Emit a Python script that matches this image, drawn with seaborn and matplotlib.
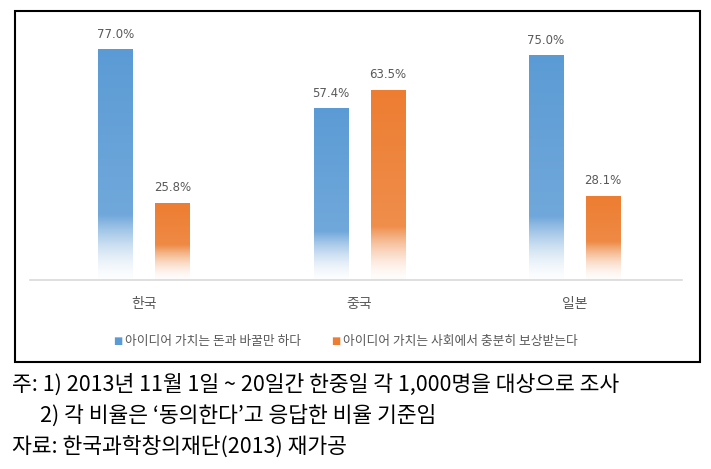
import numpy as np
import pandas as pd
import matplotlib
matplotlib.use("Agg")
import matplotlib.pyplot as plt
import seaborn as sns
from matplotlib.colors import to_rgb
from matplotlib.patches import Rectangle

countries = ["한국", "중국", "일본"]
series = ["아이디어 가치는 돈과 바꿀만 하다", "아이디어 가치는 사회에서 충분히 보상받는다"]
money_vals = [77.0, 57.4, 75.0]
reward_vals = [25.8, 63.5, 28.1]
colors = ["#5B9BD5", "#ED7D31"]
notes = ["주: 1) 2013년 11월 1일 ~ 20일간 한중일 각 1,000명을 대상으로 조사",
         "2) 각 비율은 ‘동의한다’고 응답한 비율 기준임",
         "자료: 한국과학창의재단(2013) 재가공"]

df = pd.DataFrame({
    "국가": countries * 2,
    "항목": [series[0]] * 3 + [series[1]] * 3,
    "값": money_vals + reward_vals,
})

sns.set_theme(style="white")
plt.rcParams['font.family'] = ['Noto Sans CJK KR', 'DejaVu Sans']

W, H = 711, 469
fig = plt.figure(figsize=(W / 100, H / 100), dpi=100)

ax_left, ax_right = 30, 682
ax_top, ax_bot = 20, 280
ax = fig.add_axes([ax_left / W, 1 - ax_bot / H, (ax_right - ax_left) / W, (ax_bot - ax_top) / H])

sns.barplot(data=df, x="국가", y="값", hue="항목", palette=colors, width=0.53, gap=0.4,
            ax=ax, legend=False, saturation=1)
ax.set_xlim(-0.53, 2.5)
ax.set_ylim(0, 86.7)

# gradient fill for bars (solid top, lighter downward, fading out near the base)
for patch, col in zip(ax.patches, [colors[0]] * 3 + [colors[1]] * 3):
    x0, y0 = patch.get_x(), patch.get_y()
    w, h = patch.get_width(), patch.get_height()
    r, g, b = to_rgb(col)
    n = 256
    t = np.linspace(0, 1, n)  # 0 bottom -> 1 top
    fade = 0.28 if h > 40 else 0.45
    alpha = np.clip(0.02 + 0.98 * (t / fade) ** 1.6, 0, 1)
    light = 0.18 * (1 - t)
    img = np.zeros((n, 2, 4))
    img[:, :, 0] = (r + (1 - r) * light)[:, None]
    img[:, :, 1] = (g + (1 - g) * light)[:, None]
    img[:, :, 2] = (b + (1 - b) * light)[:, None]
    img[:, :, 3] = alpha[:, None]
    patch.set_facecolor("none")
    patch.set_edgecolor("none")
    im = ax.imshow(img, extent=[x0, x0 + w, y0, y0 + h], origin="lower", aspect="auto",
                   zorder=2, interpolation="bilinear")
    im.set_clip_path(patch)

for cont in ax.containers:
    ax.bar_label(cont, labels=[f"{v:.1f}%" for v in cont.datavalues], padding=6,
                 fontsize=8.5, color="#595959", family=['DejaVu Sans'])

ax.set_xlim(-0.53, 2.5)
ax.set_ylim(0, 86.7)
ax.set_xlabel("")
ax.set_ylabel("")
ax.set_yticks([])
ax.tick_params(axis="x", length=0, pad=12, labelsize=10, labelcolor="#595959")
for s in ["top", "left", "right"]:
    ax.spines[s].set_visible(False)
ax.spines["bottom"].set_color("#D9D9D9")
ax.spines["bottom"].set_linewidth(1.2)

# legend
fig.text(118 / W, 1 - 341 / H, "■", color=colors[0], fontsize=7, va="center", ha="center",
         family=['DejaVu Sans'])
fig.text(125 / W, 1 - 341 / H, series[0], color="#595959", fontsize=9.2, va="center", ha="left")
fig.text(336 / W, 1 - 341 / H, "■", color=colors[1], fontsize=7, va="center", ha="center",
         family=['DejaVu Sans'])
fig.text(343 / W, 1 - 341 / H, series[1], color="#595959", fontsize=9.2, va="center", ha="left")

# outer box
fig.add_artist(Rectangle((15 / W, 1 - 362 / H), 685 / W, 351 / H, transform=fig.transFigure,
                         fill=False, edgecolor="black", linewidth=1.5))

# notes
fig.text(12 / W, 1 - 385 / H, notes[0], fontsize=15.5, va="center", ha="left", color="black")
fig.text(40 / W, 1 - 416 / H, notes[1], fontsize=15.5, va="center", ha="left", color="black")
fig.text(12 / W, 1 - 447 / H, notes[2], fontsize=15.5, va="center", ha="left", color="black")

fig.savefig("out.png", dpi=100)
